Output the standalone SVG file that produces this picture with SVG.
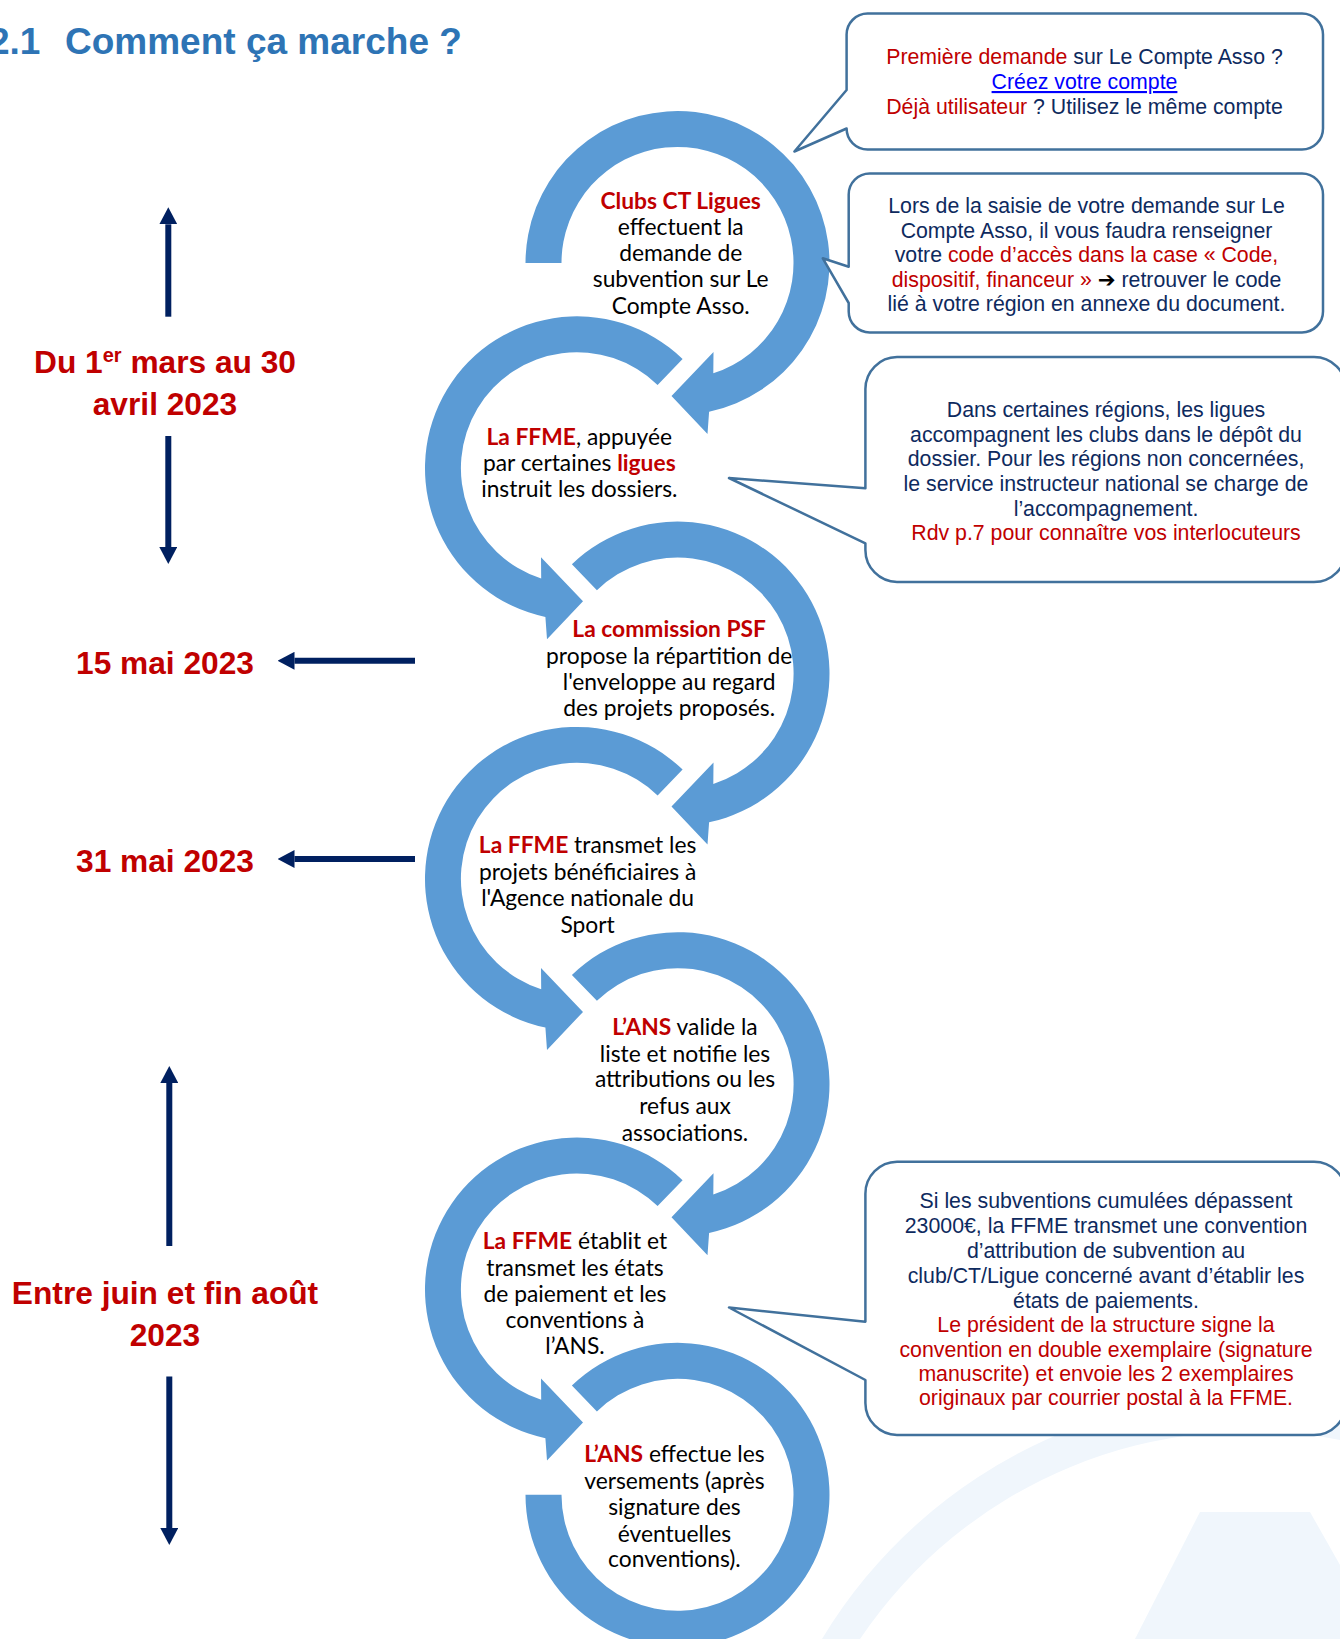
<svg xmlns="http://www.w3.org/2000/svg" xmlns:xlink="http://www.w3.org/1999/xlink" width="1340" height="1639" viewBox="0 0 1340 1639">
<style>
.ring{fill:#5b9bd5}
.ct{font-family:Lato,"Liberation Sans",sans-serif;font-size:22.8px;fill:#000;text-anchor:middle}
.b{font-weight:bold;fill:#c00000}
.co{fill:#fff;stroke:#41719c;stroke-width:2.5;stroke-linejoin:round}
.cot{font-family:"Liberation Sans",Arial,sans-serif;font-size:21.3px;fill:#0e2a5e;text-anchor:middle}
.r{fill:#c00000}
.date{font-family:"Liberation Sans",Arial,sans-serif;font-size:31.7px;font-weight:bold;fill:#c00000;text-anchor:middle}
.nav{stroke:#002060;stroke-width:6;fill:none}
.title{font-family:"Liberation Sans",Arial,sans-serif;font-size:37px;font-weight:bold;fill:#2e74b5}
.wm{fill:#f0f6fc}
</style>
<defs>
<marker id="ah" viewBox="0 0 17 18" refX="0" refY="9" markerWidth="17" markerHeight="18" markerUnits="userSpaceOnUse" orient="auto">
<path d="M0 0 L17 9 L0 18 Z" fill="#002060"/>
</marker>
<path id="ringFirst" class="ring" d="M -152 0 A 152 152 0 1 1 31.6 148.7 L 30 171 L -6 133 L 36 89 L 35.8 110.3 A 116 116 0 1 0 -116 0 Z"/>
<path id="ringMid" class="ring" d="M -105.6 -109.3 A 152 152 0 1 1 31.6 148.7 L 30 171 L -6 133 L 36 89 L 35.8 110.3 A 116 116 0 1 0 -80.6 -83.4 Z"/>
<path id="ringLast" class="ring" d="M -105.6 -109.3 A 152 152 0 1 1 -152 0 L -116 0 A 116 116 0 1 0 -80.6 -83.4 Z"/>
</defs>
<rect width="1340" height="1639" fill="#fff"/>

<g id="watermark">
<path class="wm" d="M 822 1639 A 505 505 0 0 1 1340 1402 L 1340 1440 A 470 470 0 0 0 860 1639 Z"/>
<path class="wm" d="M 1200 1512 L 1310 1512 L 1340 1565 L 1340 1639 L 1135 1639 Z"/>
</g>

<text class="title" x="-11" y="54">2.1<tspan x="65">Comment ça marche ?</tspan></text>

<g id="step1">
<use xlink:href="#ringFirst" href="#ringFirst" transform="translate(677.5 263)"/>
<text class="ct" x="680.7" y="208.5"><tspan class="b">Clubs CT Ligues</tspan></text>
<text class="ct" x="680.7" y="235">effectuent la</text>
<text class="ct" x="680.7" y="261">demande de</text>
<text class="ct" x="680.7" y="287">subvention sur Le</text>
<text class="ct" x="680.7" y="313.5">Compte Asso.</text>
</g>
<g id="step2">
<use xlink:href="#ringMid" href="#ringMid" transform="translate(577 468.3) scale(-1 1)"/>
<text class="ct" x="579.3" y="444.5"><tspan class="b">La FFME</tspan>, appuyée</text>
<text class="ct" x="579.3" y="471.3">par certaines <tspan class="b">ligues</tspan></text>
<text class="ct" x="579.3" y="497">instruit les dossiers.</text>
</g>
<g id="step3">
<use xlink:href="#ringMid" href="#ringMid" transform="translate(677.5 673.6)"/>
<text class="ct" x="669.2" y="637.3"><tspan class="b">La commission PSF</tspan></text>
<text class="ct" x="669.2" y="664">propose la répartition de</text>
<text class="ct" x="669.2" y="690.3">l'enveloppe au regard</text>
<text class="ct" x="669.2" y="716.3">des projets proposés.</text>
</g>
<g id="step4">
<use xlink:href="#ringMid" href="#ringMid" transform="translate(577 878.9) scale(-1 1)"/>
<text class="ct" x="587.6" y="853"><tspan class="b">La FFME</tspan> transmet les</text>
<text class="ct" x="587.6" y="880">projets bénéficiaires à</text>
<text class="ct" x="587.6" y="906">l'Agence nationale du</text>
<text class="ct" x="587.6" y="932.5">Sport</text>
</g>
<g id="step5">
<use xlink:href="#ringMid" href="#ringMid" transform="translate(677.5 1084.2)"/>
<text class="ct" x="685" y="1035"><tspan class="b">L’ANS</tspan> valide la</text>
<text class="ct" x="685" y="1061.6">liste et notifie les</text>
<text class="ct" x="685" y="1087.4">attributions ou les</text>
<text class="ct" x="685" y="1113.6">refus aux</text>
<text class="ct" x="685" y="1140.5">associations.</text>
</g>
<g id="step6">
<use xlink:href="#ringMid" href="#ringMid" transform="translate(577 1289.5) scale(-1 1)"/>
<text class="ct" x="575" y="1248.5"><tspan class="b">La FFME</tspan> établit et</text>
<text class="ct" x="575" y="1275.5">transmet les états</text>
<text class="ct" x="575" y="1302">de paiement et les</text>
<text class="ct" x="575" y="1327.7">conventions à</text>
<text class="ct" x="575" y="1354">l’ANS.</text>
</g>
<g id="step7">
<use xlink:href="#ringLast" href="#ringLast" transform="translate(677.5 1494.8)"/>
<text class="ct" x="674.4" y="1461.8"><tspan class="b">L’ANS</tspan> effectue les</text>
<text class="ct" x="674.4" y="1488.6">versements (après</text>
<text class="ct" x="674.4" y="1515">signature des</text>
<text class="ct" x="674.4" y="1541.5">éventuelles</text>
<text class="ct" x="674.4" y="1567">conventions).</text>
</g>

<g id="callout1">
<path class="co" d="M 867.6 13.6 H 1302 A 21 21 0 0 1 1323 34.6 V 128.5 A 21 21 0 0 1 1302 149.5 H 867.6 A 21 21 0 0 1 846.6 128.5 L 794.4 151.5 L 846.6 90 V 34.6 A 21 21 0 0 1 867.6 13.6 Z"/>
<text class="cot" x="1084.5" y="64"><tspan class="r">Première demande</tspan> sur Le Compte Asso ?</text>
<text class="cot" x="1084.5" y="89" style="fill:#0000ff;text-decoration:underline">Créez votre compte</text>
<text class="cot" x="1084.5" y="114"><tspan class="r">Déjà utilisateur</tspan> ? Utilisez le même compte</text>
</g>
<g id="callout2">
<path class="co" d="M 869.7 173.5 H 1302 A 21 21 0 0 1 1323 194.5 V 311.4 A 21 21 0 0 1 1302 332.4 H 869.7 A 21 21 0 0 1 848.7 311.4 V 303 L 822.8 258.3 L 848.7 266.7 V 194.5 A 21 21 0 0 1 869.7 173.5 Z"/>
<text class="cot" x="1086.5" y="212.5">Lors de la saisie de votre demande sur Le</text>
<text class="cot" x="1086.5" y="237.5">Compte Asso, il vous faudra renseigner</text>
<text class="cot" x="1086.5" y="261.5">votre <tspan class="r">code d’accès dans la case « Code,</tspan></text>
<text class="cot" x="1086.5" y="286.5"><tspan class="r">dispositif, financeur »</tspan> <tspan style="font-family:'DejaVu Sans',sans-serif;font-weight:bold;fill:#000">➔</tspan> retrouver le code</text>
<text class="cot" x="1086.5" y="310.5">lié à votre région en annexe du document.</text>
</g>
<g id="callout3">
<path class="co" d="M 897 357 H 1314 A 32 32 0 0 1 1346 389 V 550 A 32 32 0 0 1 1314 582 H 897 A 32 32 0 0 1 865.4 550 V 543.3 L 729 478 L 865.4 488.3 V 389 A 32 32 0 0 1 897 357 Z"/>
<text class="cot" x="1106" y="417">Dans certaines régions, les ligues</text>
<text class="cot" x="1106" y="441.5">accompagnent les clubs dans le dépôt du</text>
<text class="cot" x="1106" y="465.5">dossier. Pour les régions non concernées,</text>
<text class="cot" x="1106" y="490.5">le service instructeur national se charge de</text>
<text class="cot" x="1106" y="515.5">l’accompagnement.</text>
<text class="cot r" x="1106" y="539.5">Rdv p.7 pour connaître vos interlocuteurs</text>
</g>
<g id="callout4">
<path class="co" d="M 897 1161.7 H 1314 A 32 32 0 0 1 1346 1193.7 V 1403 A 32 32 0 0 1 1314 1435 H 897 A 32 32 0 0 1 865.4 1403 V 1380 L 729 1307.5 L 865.4 1321.7 V 1193.7 A 32 32 0 0 1 897 1161.7 Z"/>
<text class="cot" x="1106" y="1207.5">Si les subventions cumulées dépassent</text>
<text class="cot" x="1106" y="1232.5">23000€, la FFME transmet une convention</text>
<text class="cot" x="1106" y="1257.5">d’attribution de subvention au</text>
<text class="cot" x="1106" y="1282.5">club/CT/Ligue concerné avant d’établir les</text>
<text class="cot" x="1106" y="1307.5">états de paiements.</text>
<text class="cot r" x="1106" y="1331.5">Le président de la structure signe la</text>
<text class="cot r" x="1106" y="1356.5">convention en double exemplaire (signature</text>
<text class="cot r" x="1106" y="1381">manuscrite) et envoie les 2 exemplaires</text>
<text class="cot r" x="1106" y="1405">originaux par courrier postal à la FFME.</text>
</g>

<g id="dates">
<text class="date" x="165" y="373.3">Du 1<tspan dy="-11" font-size="20">er</tspan><tspan dy="11"> mars au 30</tspan></text>
<text class="date" x="165" y="415">avril 2023</text>
<text class="date" x="165" y="674">15 mai 2023</text>
<text class="date" x="165" y="871.7">31 mai 2023</text>
<text class="date" x="165" y="1304">Entre juin et fin août</text>
<text class="date" x="165" y="1346">2023</text>
</g>

<g id="connectors">
<line class="nav" x1="168.3" y1="316.7" x2="168.3" y2="224.3" marker-end="url(#ah)"/>
<line class="nav" x1="168.3" y1="436" x2="168.3" y2="547" marker-end="url(#ah)"/>
<line class="nav" x1="415" y1="660.8" x2="294.5" y2="660.8" marker-end="url(#ah)"/>
<line class="nav" x1="415" y1="859" x2="294.5" y2="859" marker-end="url(#ah)"/>
<line class="nav" x1="169.3" y1="1246" x2="169.3" y2="1083" marker-end="url(#ah)"/>
<line class="nav" x1="169.3" y1="1376.5" x2="169.3" y2="1528" marker-end="url(#ah)"/>
</g>
</svg>
